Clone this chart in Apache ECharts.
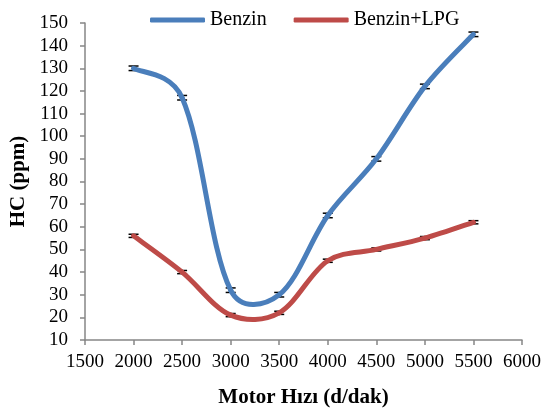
<!DOCTYPE html>
<html>
<head>
<meta charset="utf-8">
<script src="https://cdn.jsdelivr.net/npm/echarts@6/dist/echarts.min.js"></script>
<style>
html,body{margin:0;padding:0;background:#fff;}
#main{width:544px;height:410px;}
</style>
</head>
<body>
<div id="main"></div>
<script>
var speeds = [2000, 2500, 3000, 3500, 4000, 4500, 5000, 5500];
var benzin = [130, 117, 32, 30, 65, 90, 122, 145];
var benzinLpg = [56, 40, 21, 22, 45, 50, 55, 62];
var errBenzin = [1, 1, 1, 1, 1, 1, 1, 1];
var errLpg = [0.7, 0.7, 0.7, 0.7, 0.7, 0.7, 0.7, 0.7];

function pairs(ys){
    return speeds.map(function(x, i){ return [x, ys[i]]; });
}
function errData(ys, es){
    return speeds.map(function(x, i){ return [x, ys[i], es[i]]; });
}

// error bars: vertical line with caps
function renderErr(params, api){
    var x = api.value(0), y = api.value(1), e = api.value(2);
    var hi = api.coord([x, y + e]);
    var lo = api.coord([x, y - e]);
    var w = 5;
    var st = {stroke: '#000', lineWidth: 1.5};
    return {
        type: 'group',
        children: [
            {type: 'line', shape: {x1: hi[0], y1: hi[1], x2: lo[0], y2: lo[1]}, style: st},
            {type: 'line', shape: {x1: hi[0]-w, y1: hi[1], x2: hi[0]+w, y2: hi[1]}, style: st},
            {type: 'line', shape: {x1: lo[0]-w, y1: lo[1], x2: lo[0]+w, y2: lo[1]}, style: st}
        ]
    };
}

// smoothed curve, one bezier piece per data point (excel-like smoothing)
function curve(ys, color){
    return function(params, api){
        var i = params.dataIndex;
        if (i >= speeds.length - 1) return null;
        var p = speeds.map(function(x, k){ return api.coord([x, ys[k]]); });
        function d(a, b){ return Math.sqrt(Math.hypot(a[0]-b[0], a[1]-b[1])); }
        function ctrl(k, dir){
            var a = p[Math.max(k-1, 0)], b = p[Math.min(k+1, p.length-1)];
            var dp = k > 0 ? d(p[k], p[k-1]) : 0;
            var dn = k < p.length-1 ? d(p[k], p[k+1]) : 0;
            var w = dir > 0 ? dn/(dp+dn) : dp/(dp+dn);
            if (k == 0 || k == p.length-1) w = 0.5;
            return [p[k][0] + dir*(b[0]-a[0])*w/3, p[k][1] + dir*(b[1]-a[1])*w/3];
        }
        var c1 = ctrl(i, 1), c2 = ctrl(i+1, -1);
        return {
            type: 'bezierCurve',
            shape: {x1: p[i][0], y1: p[i][1], x2: p[i+1][0], y2: p[i+1][1],
                    cpx1: c1[0], cpy1: c1[1], cpx2: c2[0], cpy2: c2[1]},
            style: {stroke: color, lineWidth: 5, fill: null, lineCap: 'round'}
        };
    };
}

var blue = '#4a7ebb', red = '#be4b48';
var chart = echarts.init(document.getElementById('main'));
var font = 'Liberation Serif';
var axisLine = {show: true, lineStyle: {color: '#868686', width: 1.5}};
var axisTick = {show: true, inside: false, length: 5, lineStyle: {color: '#868686', width: 1.5}};
var option = {
    animation: false,
    textStyle: {fontFamily: font},
    grid: {left: 85, right: 22, top: 23, bottom: 70, outerBoundsMode: 'none'},
    legend: {
        top: 5,
        left: 145,
        itemWidth: 55,
        itemHeight: 5,
        itemGap: 27,
        textStyle: {fontFamily: font, fontSize: 20, color: '#000'},
        data: [
            {name: 'Benzin', icon: 'roundRect', itemStyle: {color: blue}},
            {name: 'Benzin+LPG', icon: 'roundRect', itemStyle: {color: red}}
        ]
    },
    xAxis: {
        type: 'value',
        min: 1500,
        max: 6000,
        interval: 500,
        name: 'Motor Hızı (d/dak)',
        nameLocation: 'middle',
        nameGap: 47,
        nameTextStyle: {fontFamily: font, fontSize: 21, fontWeight: 'bold', color: '#000'},
        axisLine: axisLine,
        axisTick: axisTick,
        axisLabel: {fontFamily: font, fontSize: 19, color: '#000', margin: 13,
                    formatter: function(v){ return String(v); }},
        splitLine: {show: false}
    },
    yAxis: {
        type: 'value',
        min: 10,
        max: 150,
        interval: 10,
        name: 'HC (ppm)',
        nameLocation: 'middle',
        nameGap: 55,
        nameTextStyle: {fontFamily: font, fontSize: 21, fontWeight: 'bold', color: '#000'},
        axisLine: axisLine,
        axisTick: axisTick,
        axisLabel: {fontFamily: font, fontSize: 19, color: '#000', margin: 17,
                    formatter: function(v){ return String(v); }},
        splitLine: {show: false}
    },
    series: [
        {
            name: 'Benzin-err',
            type: 'custom',
            renderItem: renderErr,
            data: errData(benzin, errBenzin),
            z: 1,
            silent: true
        },
        {
            name: 'Benzin+LPG-err',
            type: 'custom',
            renderItem: renderErr,
            data: errData(benzinLpg, errLpg),
            z: 1,
            silent: true
        },
        {
            name: 'Benzin',
            type: 'custom',
            renderItem: curve(benzin, blue),
            itemStyle: {color: blue},
            data: pairs(benzin),
            z: 3,
            silent: true
        },
        {
            name: 'Benzin+LPG',
            type: 'custom',
            renderItem: curve(benzinLpg, red),
            itemStyle: {color: red},
            data: pairs(benzinLpg),
            z: 3,
            silent: true
        }
    ]
};
chart.setOption(option);
</script>
</body>
</html>
